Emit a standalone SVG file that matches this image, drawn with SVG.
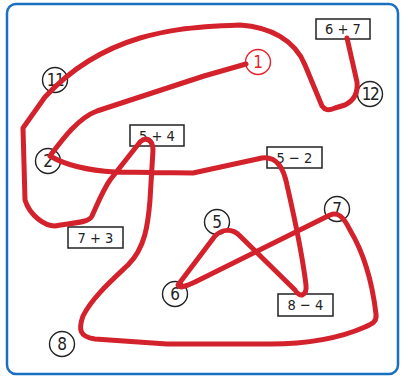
<svg xmlns="http://www.w3.org/2000/svg" width="408" height="378" viewBox="0 0 408 378">
<style>
.frame{fill:#fff;stroke:#1a6fc1;stroke-width:2.5}
.num{fill:#fff;stroke:#222;stroke-width:1.4}
.numt{font-family:"DejaVu Sans Condensed","DejaVu Sans",sans-serif;font-size:17px;fill:#222;text-anchor:middle}
.box{fill:#fff;stroke:#222;stroke-width:1.5}
.boxt{font-family:"DejaVu Sans Condensed","DejaVu Sans",sans-serif;font-size:14.5px;fill:#222;text-anchor:middle}
.red{stroke:#e8202a;fill:#fff;stroke-width:1.4}
.redt{fill:#e8202a}
.path{fill:none;stroke:#d3222b;stroke-width:5;stroke-linecap:round;stroke-linejoin:round}
</style>
<rect class="frame" x="7" y="4" width="391" height="370" rx="9"/>
<g id="n1"><circle class="num red" cx="258" cy="62" r="12.5"/><text class="numt redt" x="258" y="68">1</text></g>
<g id="n2"><circle class="num" cx="48" cy="161" r="12.5"/><text class="numt" x="48" y="167">2</text></g>
<g id="n5"><circle class="num" cx="217" cy="222" r="12.5"/><text class="numt" x="217" y="228">5</text></g>
<g id="n6"><circle class="num" cx="175" cy="294" r="12.5"/><text class="numt" x="175" y="300">6</text></g>
<g id="n7"><circle class="num" cx="337" cy="209" r="12.5"/><text class="numt" x="337" y="215">7</text></g>
<g id="n8"><circle class="num" cx="62" cy="344" r="12.5"/><text class="numt" x="62" y="350">8</text></g>
<g id="n11"><circle class="num" cx="55" cy="80" r="12.5"/><text class="numt" x="55" y="86" letter-spacing="-1.5">11</text></g>
<g id="n12"><circle class="num" cx="370" cy="94" r="12.5"/><text class="numt" x="370" y="100" letter-spacing="-1.5">12</text></g>
<g id="b67"><rect class="box" x="316" y="19" width="54" height="20"/><text class="boxt" x="343" y="34">6 + 7</text></g>
<g id="b54"><rect class="box" x="130" y="125" width="54" height="21"/><text class="boxt" x="157" y="141">5 + 4</text></g>
<g id="b52"><rect class="box" x="267" y="147" width="55" height="21"/><text class="boxt" x="294.5" y="163">5 − 2</text></g>
<g id="b73"><rect class="box" x="68" y="227" width="55" height="21"/><text class="boxt" x="95.5" y="243">7 + 3</text></g>
<g id="b84"><rect class="box" x="278" y="294" width="55" height="22"/><text class="boxt" x="305.5" y="310">8 − 4</text></g>
<g id="connectors">
<path class="path" d="M246,64 L204,76 L97,111 C78,118 62,140 50,156 C62,163 80,170 115,172 L193,173 L262,158 C278,156 284,170 287,185 C295,220 303,260 306,285 C307,296 300,298 295,290 L240,236 C232,228 222,229 215,236 L178,285 C180,289 186,286 195,282 L330,215 C338,212 343,216 350,230 C362,250 372,280 376,314 C377,322 372,324 365,327 C340,338 310,344 270,344 L167,344 L95,339 C80,337 78,330 83,316 C92,298 110,282 128,265 C145,248 148,225 150,200 L153,150 C153,140 146,136 140,142 L110,180 C103,190 97,205 92,216 C89,222 80,222 55,226 C45,226 30,216 25,200 L23,128 L45,97 C70,70 100,50 140,38 C165,31 185,27 240,25 C270,27 295,40 305,65 L322,106 C325,110 328,111 335,108 L345,105 C355,100 358,92 357,82 L347,38"/>
</g>
</svg>
